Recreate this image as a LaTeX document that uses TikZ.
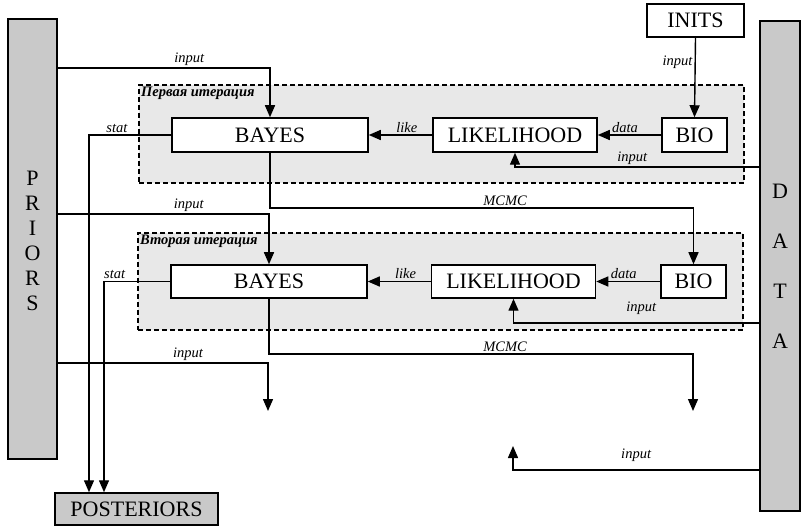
\documentclass[tikz,border=0pt]{standalone}
\usepackage{fontspec}
\setmainfont{Liberation Serif}
\usetikzlibrary{arrows.meta,positioning}

\begin{document}
\begin{tikzpicture}[
    x=1pt, y=-1pt,
    block/.style={draw, rectangle, line width=1.5pt, fill=white, minimum height=34pt, inner sep=0pt, font=\fontsize{22}{25}\selectfont},
    bar/.style={draw, rectangle, line width=1.5pt, fill=gray!42, inner sep=0pt, align=center},
    iterbox/.style={draw, dash pattern=on 5pt off 3pt, line width=1.8pt, fill=gray!18, inner sep=0pt},
    iterlabel/.style={font=\fontsize{14.5}{16}\selectfont\bfseries\itshape, anchor=north west, inner sep=1pt},
    lbl/.style={font=\fontsize{14.5}{16}\selectfont\itshape, inner sep=2pt},
    edge/.style={-{Triangle[width=10pt,length=12pt]}, line width=1.4pt},
]
\useasboundingbox (0,0) rectangle (805,526);

% Iterations
\node[iterbox, minimum width=605pt, minimum height=98pt] (iter1) at (441.5,134) {};
\node[iterbox, minimum width=605pt, minimum height=97pt] (iter2) at (440.5,281.5) {};
\node[iterlabel] (iter1lbl) at (140,86) {Первая итерация};
\node[iterlabel] (iter2lbl) at (139,234) {Вторая итерация};

% Side bars
\node[bar, minimum width=49pt, minimum height=440pt, font=\fontsize{22}{25}\selectfont] (priors) at (32.5,239) {\\[-7pt]P\\R\\I\\O\\R\\S};
\node[bar, minimum width=40pt, minimum height=490pt, font=\fontsize{22}{50}\selectfont] (data) at (780,266) {D\\A\\T\\A};
\node[bar, minimum width=163pt, minimum height=32pt, font=\fontsize{22}{25}\selectfont] (posteriors) at (136.5,509) {POSTERIORS};
\node[block, minimum width=97pt, minimum height=33pt] (inits) at (695.5,20.5) {INITS};

% First iteration
\node[block, minimum width=196pt] (bayes1) at (270,135) {BAYES};
\node[block, minimum width=164pt] (like1) at (515,135) {LIKELIHOOD};
\node[block, minimum width=65pt] (bio1) at (694.5,135) {BIO};

% Second iteration
\node[block, minimum width=196pt, minimum height=33pt] (bayes2) at (269,281.5) {BAYES};
\node[block, minimum width=164pt, minimum height=33pt] (like2) at (513.5,281.5) {LIKELIHOOD};
\node[block, minimum width=65pt, minimum height=33pt] (bio2) at (693.5,281.5) {BIO};

% Next iteration (not drawn)
\coordinate (bayes3) at (268,411);
\coordinate (bio3) at (693,411);
\coordinate (like3) at (513,446);

% Edges
\draw[edge] (priors.east |- 0,68) -| node[lbl, above, pos=0.31] {input} (bayes1.north);
\draw[edge] (inits.south) -- node[lbl, left, pos=0.31] {input} (bio1.north);
\draw[edge] (bio1.west) -- node[lbl, above, pos=0.57] {data} (like1.east);
\draw[edge] (like1.west) -- node[lbl, above, pos=0.4] {like} (bayes1.east);
\draw[edge] (data.west |- 0,167) -| node[lbl, above, pos=0.26] {input} (like1.south);
\draw[edge] (bayes1.west) -| node[lbl, above, pos=0.33] {stat} ([xshift=-47.5pt]posteriors.north);
\draw[edge] (bayes1.south) |- (505,208) node[lbl, above] {MCMC} -| (bio2.north);

\draw[edge] (priors.east |- 0,214) -| node[lbl, above, pos=0.31] {input} (bayes2.north);
\draw[edge] (bio2.west) -- node[lbl, above, pos=0.57] {data} (like2.east);
\draw[edge] (like2.west) -- node[lbl, above, pos=0.4] {like} (bayes2.east);
\draw[edge] (data.west |- 0,323) -| node[lbl, above=6pt, pos=0.24] {input} (like2.south);
\draw[edge] (bayes2.west) -| node[lbl, above, pos=0.42] {stat} ([xshift=-32.5pt]posteriors.north);
\draw[edge] (bayes2.south) |- (505,354) node[lbl, above] {MCMC} -| (bio3);

\draw[edge] (priors.east |- 0,363) -| node[lbl, above, pos=0.31] {input} (bayes3);
\draw[edge] (data.west |- 0,470) -| node[lbl, above=6pt, pos=0.25] {input} (like3);

\end{tikzpicture}
\end{document}
